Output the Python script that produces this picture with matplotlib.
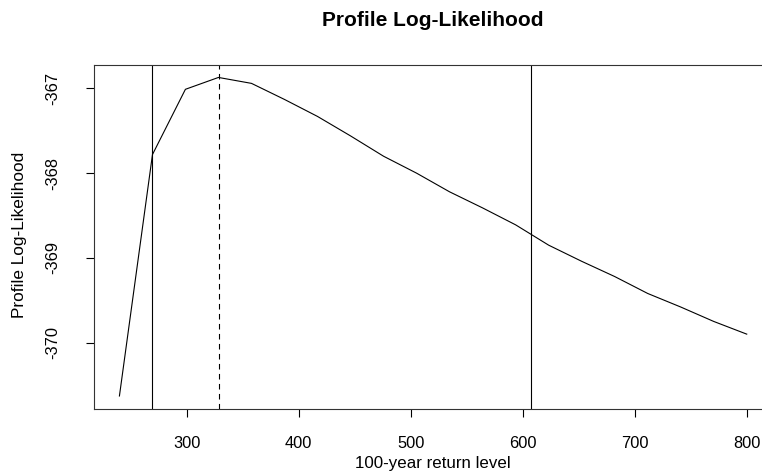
import matplotlib
matplotlib.use("Agg")
from matplotlib import pyplot as plt

# profile log-likelihood for the 100-year return level
return_level = [240.0, 269.5, 298.9, 328.4, 357.9, 387.4, 416.8, 446.3, 475.8, 505.3,
                534.7, 564.2, 593.7, 623.2, 652.6, 682.1, 711.6, 741.1, 770.5, 800.0]
loglik = [-370.63, -367.78, -367.01, -366.87, -366.94, -367.13, -367.33, -367.56, -367.80, -368.00,
          -368.22, -368.41, -368.61, -368.85, -369.04, -369.22, -369.42, -369.58, -369.75, -369.90]

ci_bounds = [269.4, 607.6]  # confidence interval limits
mle = 329.0  # maximum likelihood estimate

x_ticks = [300, 400, 500, 600, 700, 800]
y_ticks = [-367, -368, -369, -370]

FONT = "Liberation Sans"

fig = plt.figure(figsize=(7.62, 4.73), dpi=100)
# right edge of the plot box is cut off in the original picture
ax = fig.add_axes([0.1238, 0.1359, 0.8891, 0.7273])

ax.plot(return_level, loglik, color="black", lw=0.8)
for b in ci_bounds:
    ax.axvline(b, color="black", lw=0.8)
ax.axvline(mle, color="black", lw=0.8, dashes=(5, 4))

# R style 4% padding around the data
xr = max(return_level) - min(return_level)
yr = max(loglik) - min(loglik)
ax.set_xlim(min(return_level) - 0.04 * xr, max(return_level) + 0.04 * xr)
ax.set_ylim(min(loglik) - 0.04 * yr, max(loglik) + 0.04 * yr)

ax.set_xticks(x_ticks)
ax.set_yticks(y_ticks)
ax.set_xticklabels([str(t) for t in x_ticks], fontfamily=FONT, fontsize=11.8)
ax.set_yticklabels([str(t) for t in y_ticks], fontfamily=FONT, fontsize=11.8,
                   rotation=90, va="center")
ax.tick_params(axis="both", direction="out", length=6, width=0.8, color="black")
ax.tick_params(axis="x", pad=14)
ax.tick_params(axis="y", pad=18.5)

for s in ax.spines.values():
    s.set_linewidth(0.8)
    s.set_color("#333333")

fig.text(0.5685, 0.9577, "Profile Log-Likelihood", fontfamily=FONT, fontsize=15,
         fontweight="bold", ha="center", va="center")
fig.text(0.5685, 0.0211, "100-year return level", fontfamily=FONT, fontsize=12.2,
         ha="center", va="center")
fig.text(0.0262, 0.503, "Profile Log-Likelihood", fontfamily=FONT, fontsize=12.4,
         ha="center", va="center", rotation=90)

fig.savefig("out.png", dpi=100)
